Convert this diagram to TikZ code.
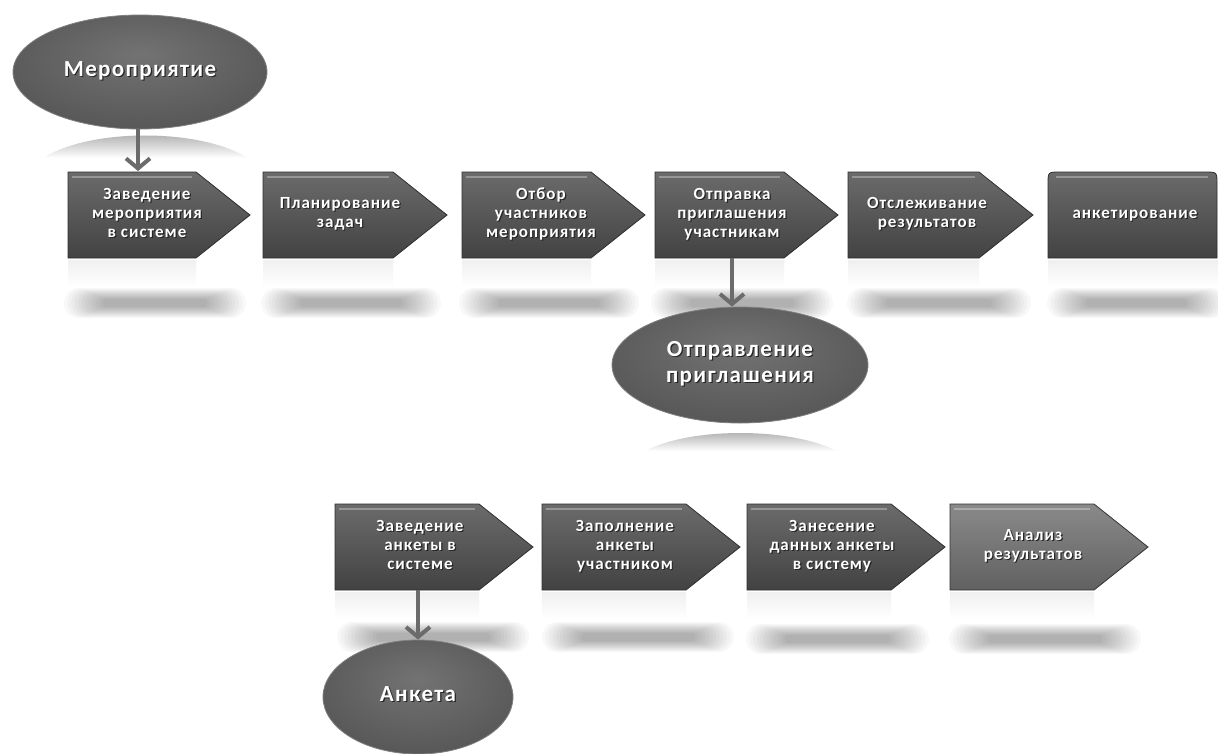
\documentclass[tikz,border=0pt]{standalone}
\usepackage{fontspec}
\setmainfont{Carlito}
\newfontfamily\lblfont[LetterSpace=6]{Carlito}
\usetikzlibrary{arrows.meta,shapes.geometric}

% dark oval with a slightly lighter middle
\pgfdeclareradialshading{ovalsh}{\pgfpoint{0bp}{8bp}}{color(0bp)=(black!55); color(30bp)=(black!66); color(50bp)=(black!80); color(60bp)=(black!80)}

% white text with a dark shadow
\newcommand\txtblock[1]{\begin{tabular}[b]{@{}c@{}}#1\end{tabular}}
\newcommand\glowtext[1]{\leavevmode\rlap{\kern1.2pt\raisebox{-1.2pt}{\color{black!85}\txtblock{#1}}}\txtblock{#1}}

\tikzset{
  boxfill/.style={top color=black!58, bottom color=black!74, draw=black!82, line width=0.8pt},
  boxlight/.style={top color=black!46, bottom color=black!62, draw=black!80, line width=0.8pt},
  hilite/.style={draw=white, opacity=0.3, line width=1.5pt},
  lbl/.style={text=white, font=\lblfont\bfseries\fontsize{17}{19}\selectfont, inner sep=0pt},
  oval/.style={ellipse, shade, shading=ovalsh, draw=black!50, line width=0.8pt, inner sep=0pt,
    text=white, font=\lblfont\bfseries\fontsize{23}{26}\selectfont},
  arr/.style={draw=black!58, line width=4pt, -{Straight Barb[length=10pt,width=24pt]}},
  refl/.style={top color=black!38, bottom color=white},
  faint/.style={top color=black!6, bottom color=white},
  blurlayer/.style={fill=black, opacity=0.026},
}

% chevron block: name, left x, centre y, width, text offset, fill style, text
\newcommand\chevron[7]{%
  \shade[faint] (#2,{#3+45}) rectangle ({#2+#4-54},{#3+72});
  \path[#6] (#2,{#3-43}) -- ({#2+#4-54},{#3-43}) -- ({#2+#4},#3) -- ({#2+#4-54},{#3+43}) -- (#2,{#3+43}) -- cycle;
  \draw[hilite] ({#2+4},{#3-38}) -- ({#2+#4-58},{#3-38});
  \node[lbl] (#1) at ({#2+#5},#3) {\glowtext{#7}};}

% soft floor shadow: x from, x to, centre y (stacked translucent layers)
\newcommand\floorbar[3]{%
  \foreach \k in {0,...,11}{%
    \pgfmathsetmacro\rr{15-\k}%
    \path[blurlayer, rounded corners=\rr pt] ({#1+\k*3.5},{#3-15+\k}) rectangle ({#2-\k*3.5},{#3+15-\k});}}

\begin{document}
\begin{tikzpicture}[x=1pt,y=-1pt]
\useasboundingbox[fill=white] (0,0) rectangle (1218,753);

% floor shadows
\floorbar{64}{246}{303}
\floorbar{261}{441}{303}
\floorbar{459}{639}{303}
\floorbar{651}{833}{303}
\floorbar{847}{1031}{303}
\floorbar{1047}{1226}{303}
\floorbar{337}{529}{637}
\floorbar{542}{734}{637}
\floorbar{746}{929}{639}
\floorbar{949}{1141}{639}

% reflections under the ovals
\shade[refl] (43,158) .. controls (90,128) and (200,128) .. (248,158) -- cycle;
\shade[refl] (645,451) .. controls (690,427) and (790,427) .. (837,451) -- cycle;

% upper process chain
\chevron{b1}{68}{215}{182}{79}{boxfill}{Заведение\\мероприятия\\в системе}
\chevron{b2}{263}{215}{184}{77}{boxfill}{Планирование\\задач}
\chevron{b3}{462}{215}{183}{79}{boxfill}{Отбор\\участников\\мероприятия}
\chevron{b4}{655}{215}{183}{77}{boxfill}{Отправка\\приглашения\\участникам}
\chevron{b5}{848}{215}{185}{79}{boxfill}{Отслеживание\\результатов}

\shade[faint] (1048,260) rectangle (1218,287);
\path[boxfill] (1048,258) -- (1048,184) .. controls (1048,172) .. (1060,172) -- (1205,172)
  .. controls (1217,172) .. (1217,184) -- (1217,258) -- cycle;
\draw[hilite] (1056,177) -- (1208,177);
\node[lbl] (b6) at (1135,215) {\glowtext{анкетирование}};

% lower process chain
\chevron{c1}{335}{547}{198}{85}{boxfill}{Заведение\\анкеты в\\системе}
\chevron{c2}{542}{547}{198}{83}{boxfill}{Заполнение\\анкеты\\участником}
\chevron{c3}{747}{547}{198}{85}{boxfill}{Занесение\\данных анкеты\\в систему}
\chevron{c4}{950}{547}{198}{83}{boxlight}{Анализ\\результатов}

% ovals
\node[oval, minimum width=254pt, minimum height=114pt] (e1) at (140,72) {\glowtext{Мероприятие}};
\node[oval, minimum width=256pt, minimum height=116pt] (e2) at (740,365) {\glowtext{Отправление\\приглашения}};
\node[oval, minimum width=190pt, minimum height=114pt] (e3) at (418,697) {\glowtext{Анкета}};

% connectors
\coordinate (t1) at (138,171);
\coordinate (s2) at (732,258);
\coordinate (s3) at (418,590);
\draw[arr] (t1 |- e1.south) -- (t1);
\draw[arr] (s2) -- (s2 |- e2.north);
\draw[arr] (s3) -- (s3 |- e3.north);
\end{tikzpicture}
\end{document}
